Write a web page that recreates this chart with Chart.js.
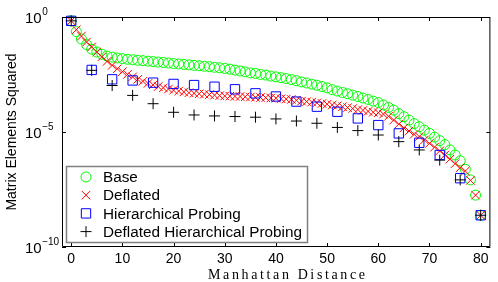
<!DOCTYPE html>
<html>
<head>
<meta charset="utf-8">
<script src="https://cdn.jsdelivr.net/npm/chart.js@4.4.1/dist/chart.umd.min.js"></script>
<style>
  html, body { margin: 0; padding: 0; background: #fff; }
  canvas { display: block; }
</style>
</head>
<body>
<canvas id="matrixChart" width="498" height="282"></canvas>
<script>
// Manhattan distance 0..80 for the full curves, every 4 for probing
const distances = [
  0, 1, 2, 3, 4, 5, 6, 7, 8, 9, 10, 11, 12, 13, 14, 15, 16, 17, 18, 19, 20,
  21, 22, 23, 24, 25, 26, 27, 28, 29, 30, 31, 32, 33, 34, 35, 36, 37, 38, 39, 40,
  41, 42, 43, 44, 45, 46, 47, 48, 49, 50, 51, 52, 53, 54, 55, 56, 57, 58, 59, 60,
  61, 62, 63, 64, 65, 66, 67, 68, 69, 70, 71, 72, 73, 74, 75, 76, 77, 78, 79, 80
];
const probeDistances = [0, 4, 8, 12, 16, 20, 24, 28, 32, 36, 40, 44, 48, 52, 56, 60, 64, 68, 72, 76, 80];

const baseValues = [
  6.8e-1, 2.3e-1, 1.1e-1, 6.3e-2, 4.0e-2, 3.0e-2, 2.4e-2, 2.0e-2, 1.8e-2, 1.66e-2, 1.55e-2,
  1.45e-2, 1.38e-2, 1.32e-2, 1.26e-2, 1.2e-2, 1.15e-2, 1.1e-2, 1.05e-2, 1.0e-2, 9.5e-3,
  9.1e-3, 8.7e-3, 8.3e-3, 7.9e-3, 7.6e-3, 7.2e-3, 6.9e-3, 6.5e-3, 6.2e-3, 5.8e-3,
  5.4e-3, 4.9e-3, 4.5e-3, 4.1e-3, 3.7e-3, 3.5e-3, 3.2e-3, 3.0e-3, 2.7e-3, 2.5e-3,
  2.3e-3, 2.1e-3, 1.9e-3, 1.7e-3, 1.5e-3, 1.35e-3, 1.2e-3, 1.07e-3, 9.5e-4, 8.3e-4,
  6.9e-4, 6.0e-4, 5.2e-4, 4.6e-4, 4.0e-4, 3.5e-4, 3.0e-4, 2.6e-4, 2.2e-4, 1.9e-4,
  1.5e-4, 1.17e-4, 8.9e-5, 6.3e-5, 4.6e-5, 3.3e-5, 2.3e-5, 1.7e-5, 1.2e-5, 8.7e-6,
  6.0e-6, 4.2e-6, 2.8e-6, 1.66e-6, 1.0e-6, 5.6e-7, 2.4e-7, 8.3e-8, 1.8e-8, 2.4e-9
];
const deflatedValues = [
  6.8e-1, 2.8e-1, 1.48e-1, 8.1e-2, 5.0e-2, 3.0e-2, 1.86e-2, 1.17e-2, 7.9e-3, 5.6e-3, 4.2e-3,
  3.2e-3, 2.5e-3, 1.95e-3, 1.6e-3, 1.3e-3, 1.12e-3, 9.5e-4, 8.3e-4, 7.4e-4, 6.6e-4,
  6.0e-4, 5.5e-4, 5.1e-4, 4.8e-4, 4.6e-4, 4.4e-4, 4.2e-4, 4.0e-4, 3.8e-4, 3.7e-4,
  3.6e-4, 3.55e-4, 3.5e-4, 3.4e-4, 3.3e-4, 3.2e-4, 3.16e-4, 3.1e-4, 3.0e-4, 2.95e-4,
  2.8e-4, 2.7e-4, 2.6e-4, 2.4e-4, 2.2e-4, 2.1e-4, 2.0e-4, 1.86e-4, 1.74e-4, 1.62e-4,
  1.5e-4, 1.38e-4, 1.26e-4, 1.15e-4, 1.05e-4, 9.5e-5, 8.7e-5, 7.9e-5, 7.2e-5, 6.9e-5,
  6.0e-5, 4.8e-5, 3.3e-5, 2.2e-5, 1.5e-5, 1.1e-5, 7.9e-6, 6.3e-6, 4.5e-6, 3.2e-6,
  2.2e-6, 1.5e-6, 1.0e-6, 6.6e-7, 4.2e-7, 2.8e-7, 2.0e-7, 7.9e-8, 1.8e-8, 2.4e-9
];
const probingValues = [
  6.8e-1, 5.0e-3, 1.95e-3, 1.74e-3, 1.4e-3, 1.23e-3, 1.1e-3, 9.3e-4, 7.2e-4, 4.8e-4, 3.5e-4,
  2.1e-4, 1.26e-4, 7.6e-5, 3.9e-5, 2.0e-5, 8.7e-6, 3.4e-6, 1.0e-6, 9.8e-8, 2.4e-9
];
const deflatedProbingValues = [
  6.8e-1, 4.8e-3, 1.05e-3, 3.9e-4, 1.7e-4, 7.2e-5, 5.5e-5, 5.0e-5, 4.7e-5, 4.4e-5, 3.7e-5,
  3.0e-5, 2.4e-5, 1.58e-5, 1.15e-5, 7.4e-6, 3.8e-6, 1.66e-6, 6.0e-7, 8.3e-8, 2.4e-9
];

const xTicks = [0, 10, 20, 30, 40, 50, 60, 70, 80];
const yTicks = [1e0, 1e-5, 1e-10];
const yTickExponents = ["0", "\u22125", "\u221210"];

const toPoints = (xs, ys) => xs.map((x, i) => ({ x: x, y: ys[i] }));

const datasets = [
  { label: "Base", data: toPoints(distances, baseValues), pointStyle: "circle",
    pointRadius: 5, borderColor: "#00ff00", order: 4 },
  { label: "Deflated", data: toPoints(distances, deflatedValues), pointStyle: "crossRot",
    pointRadius: 6, borderColor: "#ff0000", order: 3 },
  { label: "Hierarchical Probing", data: toPoints(probeDistances, probingValues), pointStyle: "rect",
    pointRadius: 6.6, borderColor: "#0000ff", order: 2 },
  { label: "Deflated Hierarchical Probing", data: toPoints(probeDistances, deflatedProbingValues), pointStyle: "cross",
    pointRadius: 5.5, borderColor: "#000000", order: 1 }
];
datasets.forEach(d => {
  d.showLine = false;
  d.backgroundColor = "transparent";
  d.pointBorderWidth = 1;
  d.pointBorderColor = d.borderColor;
  d.pointBackgroundColor = "transparent";
  d.clip = false;
});

const framePlugin = {
  id: "frame",
  afterDraw(chart) {
    const ctx = chart.ctx;
    const a = chart.chartArea;
    const xs = chart.scales.x;
    const ys = chart.scales.y;
    ctx.save();

    // box and inward ticks
    ctx.strokeStyle = "#000";
    ctx.lineWidth = 1;
    ctx.beginPath();
    ctx.rect(a.left + 0.5, a.top + 0.5, a.right - a.left - 1, a.bottom - a.top - 1);
    xTicks.forEach(v => {
      const px = Math.round(xs.getPixelForValue(v)) + 0.5;
      ctx.moveTo(px, a.bottom); ctx.lineTo(px, a.bottom - 4);
      ctx.moveTo(px, a.top); ctx.lineTo(px, a.top + 4);
    });
    yTicks.forEach(v => {
      const py = Math.round(ys.getPixelForValue(v)) + 0.5;
      ctx.moveTo(a.left, py); ctx.lineTo(a.left + 4, py);
      ctx.moveTo(a.right, py); ctx.lineTo(a.right - 4, py);
    });
    ctx.stroke();

    // x tick labels
    ctx.fillStyle = "#000";
    ctx.font = "14px 'Liberation Sans', Arial, sans-serif";
    ctx.textAlign = "center";
    ctx.textBaseline = "middle";
    xTicks.forEach(v => ctx.fillText(String(v), xs.getPixelForValue(v), 259));

    // y tick labels 10^n
    ctx.textAlign = "left";
    yTicks.forEach((v, i) => {
      const py = ys.getPixelForValue(v);
      ctx.font = "15px 'Liberation Sans', Arial, sans-serif";
      ctx.textBaseline = "middle";
      ctx.fillText("10", 25, py + 2);
      const w = ctx.measureText("10").width;
      ctx.font = "10px 'Liberation Sans', Arial, sans-serif";
      ctx.fillText(yTickExponents[i], 25 + w + 0.5, py - 5);
    });

    // axis titles
    ctx.save();
    ctx.translate(12, 132);
    ctx.rotate(-Math.PI / 2);
    ctx.textAlign = "center";
    ctx.textBaseline = "middle";
    ctx.font = "14px 'Liberation Sans', Arial, sans-serif";
    ctx.fillText("Matrix Elements Squared", 0, 0);
    ctx.restore();

    const xTitle = "Manhattan Distance";
    ctx.font = "14px 'Liberation Serif', 'Times New Roman', serif";
    ctx.textAlign = "left";
    ctx.textBaseline = "alphabetic";
    const plain = ctx.measureText(xTitle).width;
    ctx.letterSpacing = ((157 - plain) / (xTitle.length - 1)) + "px";
    ctx.fillText(xTitle, 208, 279);
    ctx.letterSpacing = "0px";

    // legend inside the plot
    const lx = 66, ly = 166, lw = 241, lh = 76;
    ctx.fillStyle = "#fff";
    ctx.fillRect(lx, ly, lw, lh);
    ctx.strokeStyle = "#808080";
    ctx.lineWidth = 1.5;
    ctx.strokeRect(lx + 0.5, ly + 0.5, lw, lh);
    ctx.font = "15.3px 'Liberation Sans', Arial, sans-serif";
    ctx.textBaseline = "middle";
    chart.data.datasets.forEach((d, i) => {
      const cy = 177 + i * 18.2;
      ctx.strokeStyle = d.borderColor;
      ctx.fillStyle = "rgba(0,0,0,0)";
      ctx.lineWidth = 1;
      Chart.helpers.drawPoint(ctx, {
        pointStyle: d.pointStyle, radius: d.pointRadius, rotation: 0, borderWidth: 1
      }, 86, cy);
      ctx.fillStyle = "#000";
      ctx.fillText(d.label, 103, cy + 1);
    });
    ctx.restore();
  }
};

new Chart(document.getElementById("matrixChart").getContext("2d"), {
  type: "scatter",
  data: { datasets: datasets },
  options: {
    responsive: false,
    animation: false,
    devicePixelRatio: 1,
    layout: { padding: { left: 62, top: 17, right: 7, bottom: 35 } },
    plugins: { legend: { display: false }, tooltip: { enabled: false } },
    scales: {
      x: { type: "linear", min: -1.8, max: 81.9, display: false },
      y: { type: "logarithmic", min: 1e-10, max: 1, display: false }
    }
  },
  plugins: [framePlugin]
});
</script>
</body>
</html>
